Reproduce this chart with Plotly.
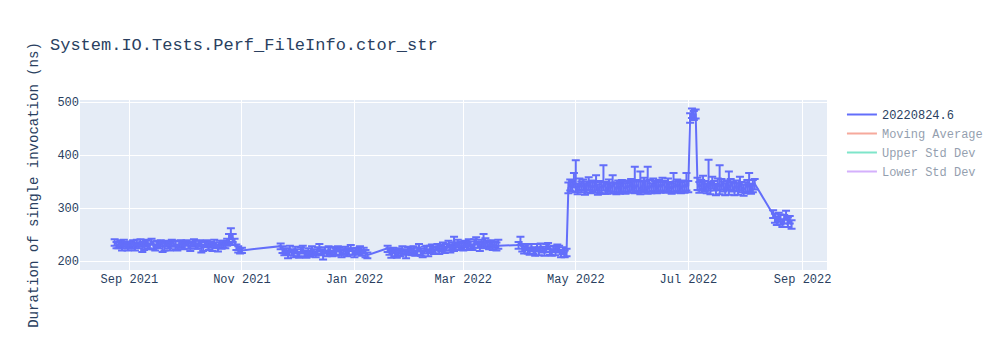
import plotly.graph_objects as go

TITLE = "System.IO.Tests.Perf_FileInfo.ctor_str"
Y_TITLE = "Duration of single invocation (ns)"
SERIES_NAME = "20220824.6"
HIDDEN_SERIES = ["Moving Average", "Upper Std Dev", "Lower Std Dev"]
HIDDEN_COLORS = ["#EF553B", "#00cc96", "#ab63fa"]

# ---- segment 1: 2021-08-24 .. 2021-11-01
dates1 = [
    "2021-08-24", "2021-08-25", "2021-08-26", "2021-08-27", "2021-08-28", "2021-08-29", "2021-08-30", "2021-08-31",
    "2021-09-01", "2021-09-02", "2021-09-03", "2021-09-04", "2021-09-05", "2021-09-06", "2021-09-07", "2021-09-08",
    "2021-09-09", "2021-09-10", "2021-09-11", "2021-09-12", "2021-09-13", "2021-09-14", "2021-09-15", "2021-09-16",
    "2021-09-17", "2021-09-18", "2021-09-19", "2021-09-20", "2021-09-21", "2021-09-22", "2021-09-23", "2021-09-24",
    "2021-09-25", "2021-09-26", "2021-09-27", "2021-09-28", "2021-09-29", "2021-09-30",
    "2021-10-01", "2021-10-02", "2021-10-03", "2021-10-04", "2021-10-05", "2021-10-06", "2021-10-07", "2021-10-08",
    "2021-10-09", "2021-10-10", "2021-10-11", "2021-10-12", "2021-10-13", "2021-10-14", "2021-10-15", "2021-10-16",
    "2021-10-17", "2021-10-18", "2021-10-19", "2021-10-20", "2021-10-21", "2021-10-22", "2021-10-23", "2021-10-24",
    "2021-10-25", "2021-10-26", "2021-10-27", "2021-10-28", "2021-10-29", "2021-10-30", "2021-10-31",
    "2021-11-01",
]
vals1 = [
    235, 231, 229, 233, 228, 232, 230, 227,
    231, 229, 234, 228, 232, 230, 235, 229, 227, 233, 231, 228, 236, 230, 226, 232, 229, 234, 231, 227,
    233, 230, 228, 235, 232, 229, 226, 231, 233, 228,
    230, 234, 229, 227, 232, 235, 230, 228, 233, 229, 226, 231, 234, 228, 230, 227, 232, 229, 225, 231,
    228, 233, 230, 236, 240, 250, 243, 236, 226, 222, 219,
    220,
]
errp1 = [
    6, 5, 7, 6, 5, 8, 6, 5,
    6, 7, 5, 6, 8, 5, 6, 7, 5, 6, 9, 5, 6, 7, 5, 6, 8, 5, 6, 7, 5, 6, 7, 5, 6, 8, 5, 7, 6, 5,
    6, 5, 7, 6, 5, 6, 8, 5, 6, 7, 5, 6, 5, 7, 6, 5, 8, 6, 5, 7, 6, 5, 7, 6, 11, 12, 8, 6, 5, 6, 5,
    5,
]
errm1 = [
    6, 7, 5, 6, 8, 5, 6, 7,
    5, 6, 7, 8, 5, 6, 7, 12, 6, 5, 7, 6, 5, 8, 6, 7, 5, 6, 14, 7, 5, 6, 8, 6, 5, 7, 6, 5, 8, 6,
    7, 5, 6, 8, 5, 6, 7, 5, 6, 13, 7, 5, 6, 7, 5, 8, 6, 5, 7, 6, 5, 8, 6, 7, 8, 9, 7, 6, 5, 6, 5,
    5,
]

# ---- segment 2: 2021-11-22 .. 2022-01-08
dates2 = [
    "2021-11-22", "2021-11-23", "2021-11-24", "2021-11-25", "2021-11-26", "2021-11-27", "2021-11-28", "2021-11-29",
    "2021-11-30",
    "2021-12-01", "2021-12-02", "2021-12-03", "2021-12-04", "2021-12-05", "2021-12-06", "2021-12-07", "2021-12-08",
    "2021-12-09", "2021-12-10", "2021-12-11", "2021-12-12", "2021-12-13", "2021-12-14", "2021-12-15", "2021-12-16",
    "2021-12-17", "2021-12-18", "2021-12-19", "2021-12-20", "2021-12-21", "2021-12-22", "2021-12-23", "2021-12-24",
    "2021-12-25", "2021-12-26", "2021-12-27", "2021-12-28", "2021-12-29", "2021-12-30", "2021-12-31",
    "2022-01-01", "2022-01-02", "2022-01-03", "2022-01-04", "2022-01-05", "2022-01-06", "2022-01-07", "2022-01-08",
]
vals2 = [
    228, 222, 216, 219, 213, 221, 217, 214, 220,
    216, 212, 219, 223, 215, 211, 218, 214, 221, 216, 213, 220, 224, 217, 212, 219, 215, 222, 218, 214,
    220, 216, 223, 219, 213, 217, 221, 215, 219, 224, 218,
    214, 220, 217, 222, 216, 219, 214, 211,
]
errp2 = [
    5, 6, 7, 5, 6, 8, 5, 6, 7,
    6, 5, 7, 6, 5, 8, 6, 5, 7, 6, 5, 6, 8, 5, 6, 7, 5, 6, 8, 5, 6, 7, 5, 6, 8, 5, 6, 7, 5, 6, 5,
    6, 5, 7, 6, 5, 6, 7, 5,
]
errm2 = [
    6, 7, 5, 6, 8, 5, 6, 7, 5,
    7, 6, 5, 8, 6, 5, 7, 6, 8, 5, 6, 7, 5, 6, 9, 5, 6, 7, 6, 5, 8, 6, 5, 7, 6, 5, 8, 6, 7, 5, 6,
    7, 6, 5, 8, 6, 5, 7, 6,
]

# ---- segment 3a: 2022-01-19 .. 2022-03-20
dates3a = [
    "2022-01-19", "2022-01-20", "2022-01-21", "2022-01-22", "2022-01-23", "2022-01-24", "2022-01-25", "2022-01-26",
    "2022-01-27", "2022-01-28", "2022-01-29", "2022-01-30", "2022-01-31",
    "2022-02-01", "2022-02-02", "2022-02-03", "2022-02-04", "2022-02-05", "2022-02-06", "2022-02-07", "2022-02-08",
    "2022-02-09", "2022-02-10", "2022-02-11", "2022-02-12", "2022-02-13", "2022-02-14", "2022-02-15", "2022-02-16",
    "2022-02-17", "2022-02-18", "2022-02-19", "2022-02-20", "2022-02-21", "2022-02-22", "2022-02-23", "2022-02-24",
    "2022-02-25", "2022-02-26", "2022-02-27", "2022-02-28",
    "2022-03-01", "2022-03-02", "2022-03-03", "2022-03-04", "2022-03-05", "2022-03-06", "2022-03-07", "2022-03-08",
    "2022-03-09", "2022-03-10", "2022-03-11", "2022-03-12", "2022-03-13", "2022-03-14", "2022-03-15", "2022-03-16",
    "2022-03-17", "2022-03-18", "2022-03-19", "2022-03-20",
]
vals3a = [
    224, 218, 214, 220, 216, 212, 219, 215, 221, 217, 213, 219, 222,
    217, 221, 215, 219, 224, 218, 214, 220, 223, 217, 221, 225, 219, 222, 226, 220, 224, 228, 222, 226,
    230, 224, 228, 225, 229, 233, 227, 231,
    227, 232, 229, 235, 230, 226, 233, 238, 231, 228, 234, 230, 236, 232, 228, 233, 229, 231, 227, 229,
]
errp3a = [
    5, 6, 7, 5, 6, 8, 5, 6, 7, 5, 6, 7, 5,
    6, 7, 5, 6, 8, 5, 6, 7, 6, 5, 8, 6, 7, 5, 6, 8, 6, 7, 5, 6, 8, 6, 7, 21, 6, 7, 8, 6,
    7, 6, 8, 6, 7, 5, 8, 7, 6, 8, 6, 21, 7, 6, 8, 6, 7, 6, 8, 11,
]
errm3a = [
    7, 6, 8, 5, 7, 6, 9, 6, 7, 5, 8, 6, 7,
    6, 8, 5, 7, 6, 8, 7, 6, 5, 8, 6, 7, 6, 8, 5, 7, 6, 8, 7, 6, 5, 8, 7, 6, 8, 7, 6, 8,
    7, 6, 8, 7, 6, 5, 8, 7, 6, 9, 7, 6, 8, 7, 6, 7, 8, 6, 7, 6,
]

# ---- segment 3b: 2022-03-31 .. 2022-04-26
dates3b = [
    "2022-03-31",
    "2022-04-01", "2022-04-02", "2022-04-03", "2022-04-04", "2022-04-05", "2022-04-06", "2022-04-07", "2022-04-08",
    "2022-04-09", "2022-04-10", "2022-04-11", "2022-04-12", "2022-04-13", "2022-04-14", "2022-04-15", "2022-04-16",
    "2022-04-17", "2022-04-18", "2022-04-19", "2022-04-20", "2022-04-21", "2022-04-22", "2022-04-23", "2022-04-24",
    "2022-04-25", "2022-04-26",
]
vals3b = [
    230, 236, 226, 221, 227, 223, 219, 225, 221, 217, 224, 220, 226, 222, 218, 224, 228, 221, 217, 223,
    219, 225, 222, 216, 220, 213, 217,
]
errp3b = [6, 10, 6, 7, 5, 8, 6, 7, 5, 6, 8, 6, 7, 5, 6, 8, 6, 7, 5, 6, 8, 6, 7, 5, 6, 7, 6]
errm3b = [7, 6, 8, 7, 6, 9, 7, 6, 8, 7, 6, 9, 7, 6, 8, 7, 6, 9, 7, 6, 8, 7, 6, 9, 7, 6, 8]

# ---- segment 4: 2022-04-27 .. 2022-08-06
dates4 = [
    "2022-04-27", "2022-04-28", "2022-04-29", "2022-04-30",
    "2022-05-01", "2022-05-02", "2022-05-03", "2022-05-04", "2022-05-05", "2022-05-06", "2022-05-07", "2022-05-08",
    "2022-05-09", "2022-05-10", "2022-05-11", "2022-05-12", "2022-05-13", "2022-05-14", "2022-05-15", "2022-05-16",
    "2022-05-17", "2022-05-18", "2022-05-19", "2022-05-20", "2022-05-21", "2022-05-22", "2022-05-23", "2022-05-24",
    "2022-05-25", "2022-05-26", "2022-05-27", "2022-05-28", "2022-05-29", "2022-05-30", "2022-05-31",
    "2022-06-01", "2022-06-02", "2022-06-03", "2022-06-04", "2022-06-05", "2022-06-06", "2022-06-07", "2022-06-08",
    "2022-06-09", "2022-06-10", "2022-06-11", "2022-06-12", "2022-06-13", "2022-06-14", "2022-06-15", "2022-06-16",
    "2022-06-17", "2022-06-18", "2022-06-19", "2022-06-20", "2022-06-21", "2022-06-22", "2022-06-23", "2022-06-24",
    "2022-06-25", "2022-06-26", "2022-06-27", "2022-06-28", "2022-06-29", "2022-06-30",
    "2022-07-01", "2022-07-02", "2022-07-03", "2022-07-04", "2022-07-05", "2022-07-06", "2022-07-07", "2022-07-08",
    "2022-07-09", "2022-07-10", "2022-07-11", "2022-07-12", "2022-07-13", "2022-07-14", "2022-07-15", "2022-07-16",
    "2022-07-17", "2022-07-18", "2022-07-19", "2022-07-20", "2022-07-21", "2022-07-22", "2022-07-23", "2022-07-24",
    "2022-07-25", "2022-07-26", "2022-07-27", "2022-07-28", "2022-07-29", "2022-07-30", "2022-07-31",
    "2022-08-01", "2022-08-02", "2022-08-03", "2022-08-04", "2022-08-05", "2022-08-06",
]
vals4 = [
    338, 345, 340, 350,
    342, 336, 347, 339, 344, 335, 341, 348, 337, 343, 339, 346, 334, 341, 337, 344, 340, 336, 343, 338,
    345, 339, 335, 342, 337, 344, 340, 336, 343, 339, 346,
    341, 337, 344, 339, 335, 342, 348, 340, 336, 343, 338, 345, 341, 337, 344, 339, 346, 342, 338, 344,
    340, 336, 343, 339, 345, 341, 337, 343, 339, 346,
    341, 470, 480, 474, 478, 346, 339, 344, 350, 341, 337, 345, 339, 348, 342, 336, 344, 339, 346, 340,
    336, 343, 338, 345, 340, 336, 342, 338, 344, 339, 335,
    338, 344, 340, 336, 342, 346,
]
errp4 = [
    10, 9, 11, 16,
    48, 10, 9, 11, 10, 12, 9, 10, 11, 9, 10, 16, 11, 10, 12, 37, 9, 10, 11, 10, 17, 9, 11, 10, 12, 9,
    10, 11, 9, 10, 9,
    10, 41, 9, 11, 34, 10, 9, 11, 42, 10, 9, 11, 10, 12, 9, 10, 11, 9, 10, 12, 9, 10, 23, 11, 9, 10,
    12, 9, 11, 20,
    10, 9, 8, 9, 8, 11, 10, 9, 11, 10, 9, 46, 10, 11, 9, 10, 12, 42, 9, 10, 11, 9, 31, 10, 9, 11, 10,
    9, 15, 10, 9,
    10, 9, 26, 10, 11, 9,
]
errm4 = [
    10, 12, 9, 11,
    12, 10, 13, 9, 11, 10, 12, 14, 9, 11, 10, 13, 9, 12, 10, 11, 13, 9, 12, 10, 14, 11, 9, 12, 10, 13,
    11, 9, 12, 10, 13,
    11, 9, 12, 10, 9, 11, 14, 10, 9, 12, 10, 13, 11, 9, 12, 10, 13, 11, 9, 12, 10, 9, 12, 10, 13, 11,
    9, 12, 10, 13,
    11, 9, 10, 8, 9, 12, 10, 11, 14, 10, 9, 12, 13, 11, 9, 12, 10, 13, 11, 9, 12, 10, 13, 11, 9, 12,
    10, 13, 11, 9, 12,
    10, 13, 11, 9, 12, 11,
]

# ---- segment 5: 2022-08-16 .. 2022-08-26
dates5 = [
    "2022-08-16", "2022-08-17", "2022-08-18", "2022-08-19", "2022-08-20", "2022-08-21", "2022-08-22", "2022-08-23",
    "2022-08-24", "2022-08-25", "2022-08-26",
]
vals5 = [288, 280, 274, 283, 276, 270, 279, 285, 273, 277, 268]
errp5 = [8, 9, 10, 8, 12, 9, 8, 10, 9, 8, 9]
errm5 = [7, 8, 6, 9, 7, 6, 8, 7, 9, 6, 7]

run_dates = dates1 + dates2 + dates3a + dates3b + dates4 + dates5
durations = vals1 + vals2 + vals3a + vals3b + vals4 + vals5
err_plus = errp1 + errp2 + errp3a + errp3b + errp4 + errp5
err_minus = errm1 + errm2 + errm3a + errm3b + errm4 + errm5

X_RANGE = ["2021-08-05 05:00", "2022-09-14 05:00"]
Y_RANGE = [183, 504]

FONT = "Liberation Mono, Courier New, monospace"

fig = go.Figure()
fig.add_trace(go.Scatter(
    x=run_dates, y=durations, mode="lines", name=SERIES_NAME,
    line=dict(color="#636efa", width=2), showlegend=True,
    error_y=dict(type="data", symmetric=False, array=err_plus, arrayminus=err_minus,
                 color="#636efa", thickness=2, width=4),
))
for name, color in zip(HIDDEN_SERIES, HIDDEN_COLORS):
    fig.add_trace(go.Scatter(x=[None], y=[None], mode="lines", name=name, showlegend=True,
                             line=dict(color=color, width=2), visible="legendonly"))

fig.update_layout(
    width=1000, height=350,
    showlegend=True,
    font=dict(family=FONT),
    title=dict(text=TITLE),
    yaxis=dict(title=dict(text=Y_TITLE), range=Y_RANGE),
    xaxis=dict(range=X_RANGE, type="date"),
)
fig.write_html("out.html")
